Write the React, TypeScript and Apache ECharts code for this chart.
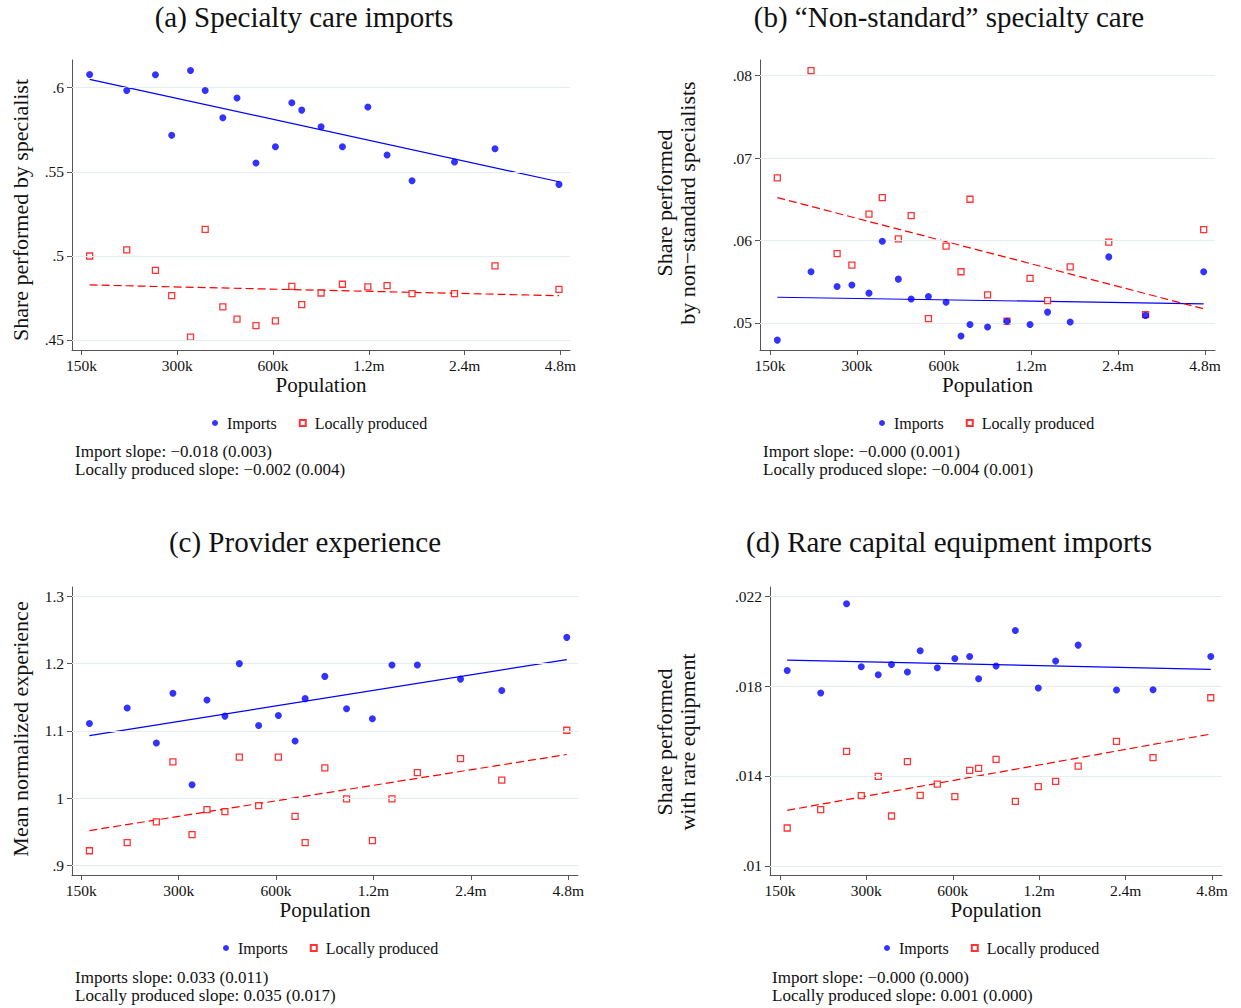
import React, { useEffect, useRef } from "react";
import * as echarts from "echarts";

// Population of each bin (thousands), shared by all panels
const populationK = [159, 208, 256, 288, 330, 367, 417, 462, 530, 610, 687, 738, 849, 991, 1191, 1369, 1640, 2230, 2990, 4750];
const xTickPopK = [150, 300, 600, 1200, 2400, 4800];
const xTickLabels = ["150k", "300k", "600k", "1.2m", "2.4m", "4.8m"];

// (a) Specialty care imports
const aImports = [0.6079, 0.5984, 0.6077, 0.5717, 0.6103, 0.5984, 0.5822, 0.5939, 0.5552, 0.5649, 0.5911, 0.5867, 0.5768, 0.5649, 0.5885, 0.56, 0.5447, 0.5558, 0.5637, 0.5425];
const aLocal = [0.4999, 0.5035, 0.4914, 0.4763, 0.4516, 0.5158, 0.4696, 0.4624, 0.4585, 0.4613, 0.4819, 0.471, 0.4779, 0.4831, 0.4815, 0.4823, 0.4775, 0.4775, 0.494, 0.4801];
const aFitImports = [0.605, 0.5441];
const aFitLocal = [0.4827, 0.4763];
const aYTicks = [0.45, 0.5, 0.55, 0.6];
const aYTickLabels = [".45", ".5", ".55", ".6"];

// (b) "Non-standard" specialty care
const bImports = [0.0479, 0.0562, 0.0544, 0.0546, 0.0536, 0.0599, 0.0553, 0.0529, 0.0532, 0.0525, 0.0484, 0.0498, 0.0495, 0.0502, 0.0498, 0.0513, 0.0501, 0.058, 0.0509, 0.0562];
const bLocal = [0.0676, 0.0806, 0.0584, 0.057, 0.0632, 0.0652, 0.0602, 0.063, 0.0505, 0.0593, 0.0562, 0.065, 0.0534, 0.0502, 0.0554, 0.0527, 0.0568, 0.0598, 0.051, 0.0613];
const bFitImports = [0.0531, 0.0523];
const bFitLocal = [0.0652, 0.0517];
const bYTicks = [0.05, 0.06, 0.07, 0.08];
const bYTickLabels = [".05", ".06", ".07", ".08"];

// (c) Provider experience
const cImports = [1.111, 1.134, 1.082, 1.156, 1.02, 1.146, 1.122, 1.2, 1.108, 1.123, 1.085, 1.148, 1.181, 1.133, 1.118, 1.198, 1.198, 1.177, 1.16, 1.239];
const cLocal = [0.922, 0.934, 0.965, 1.054, 0.946, 0.983, 0.98, 1.061, 0.989, 1.061, 0.973, 0.934, 1.045, 0.999, 0.937, 0.999, 1.038, 1.059, 1.027, 1.101];
const cFitImports = [1.093, 1.206];
const cFitLocal = [0.952, 1.065];
const cYTicks = [0.9, 1.0, 1.1, 1.2, 1.3];
const cYTickLabels = [".9", "1", "1.1", "1.2", "1.3"];

// (d) Rare capital equipment imports
const dImports = [0.018697, 0.017689, 0.021663, 0.01886, 0.018504, 0.018964, 0.018623, 0.019572, 0.018816, 0.019231, 0.01932, 0.018326, 0.01889, 0.020477, 0.017911, 0.019112, 0.019824, 0.017822, 0.017837, 0.01932];
const dLocal = [0.011682, 0.012497, 0.015093, 0.01312, 0.01398, 0.012216, 0.014633, 0.013135, 0.013639, 0.013076, 0.014247, 0.014336, 0.014737, 0.012868, 0.013521, 0.013758, 0.01444, 0.015538, 0.014811, 0.017481];
const dFitImports = [0.019157, 0.018742];
const dFitLocal = [0.012468, 0.015864];
const dYTicks = [0.01, 0.014, 0.018, 0.022];
const dYTickLabels = [".01", ".014", ".018", ".022"];

const titles = ["(a) Specialty care imports", "(b) \u201cNon-standard\u201d specialty care", "(c) Provider experience", "(d) Rare capital equipment imports"];
const yTitles = ["Share performed by specialist", "Share performed\nby non\u2212standard specialists", "Mean normalized experience", "Share performed\nwith rare equipment"];
const notes = [
  "Import slope: \u22120.018 (0.003)\nLocally produced slope: \u22120.002 (0.004)",
  "Import slope: \u22120.000 (0.001)\nLocally produced slope: \u22120.004 (0.001)",
  "Imports slope: 0.033 (0.011)\nLocally produced slope: 0.035 (0.017)",
  "Import slope: \u22120.000 (0.000)\nLocally produced slope: 0.001 (0.000)",
];

const FONT = "'Liberation Serif', 'Times New Roman', serif";
const BLUE = "#0000ff";
const RED = "#ff0000";

const toX = (p: number) => Math.log2(p / 150);

const panels = [
  { imp: aImports, loc: aLocal, fi: aFitImports, fl: aFitLocal, yt: aYTicks, yl: aYTickLabels,
    grid: { left: 72, top: 60, width: 498, height: 290 }, xr: [-0.1, 5.1], yr: [0.444, 0.6165],
    title: [304, 17], ytitle: [20, 210], note: [75, 451], legend: [207, 410] },
  { imp: bImports, loc: bLocal, fi: bFitImports, fl: bFitLocal, yt: bYTicks, yl: bYTickLabels,
    grid: { left: 760, top: 60, width: 455, height: 290 }, xr: [-0.115, 5.115], yr: [0.0467, 0.0819],
    title: [949, 17], ytitle: [676, 203], note: [763, 451], legend: [874, 410] },
  { imp: cImports, loc: cLocal, fi: cFitImports, fl: cFitLocal, yt: cYTicks, yl: cYTickLabels,
    grid: { left: 72, top: 587, width: 506, height: 288 }, xr: [-0.095, 5.1], yr: [0.886, 1.3138],
    title: [305, 542], ytitle: [20, 729], note: [75, 977], legend: [218, 935] },
  { imp: dImports, loc: dLocal, fi: dFitImports, fl: dFitLocal, yt: dYTicks, yl: dYTickLabels,
    grid: { left: 770, top: 587, width: 452, height: 288 }, xr: [-0.115, 5.115], yr: [0.00959, 0.02241],
    title: [949, 542], ytitle: [676, 742], note: [772, 977], legend: [879, 935] },
];

function buildOption() {
  const xTicks = xTickPopK.map(toX);
  const xs = populationK.map(toX);
  const grid: any[] = [];
  const xAxis: any[] = [];
  const yAxis: any[] = [];
  const series: any[] = [];
  const legend: any[] = [];
  const graphic: any[] = [];

  panels.forEach((p, i) => {
    grid.push({ ...p.grid, containLabel: false });
    xAxis.push({
      type: "value", gridIndex: i, min: p.xr[0], max: p.xr[1],
      name: "Population", nameLocation: "middle", nameGap: 24,
      nameTextStyle: { fontFamily: FONT, fontSize: 21, color: "#111" },
      axisLine: { show: true, onZero: false, lineStyle: { color: "#555", width: 1 } },
      axisTick: { show: true, length: 5, customValues: xTicks, lineStyle: { color: "#555" } },
      axisLabel: {
        customValues: xTicks, margin: 7, fontFamily: FONT, fontSize: 15.5, color: "#111",
        formatter: (v: number) => {
          let best = 0;
          xTicks.forEach((t, k) => { if (Math.abs(t - v) < Math.abs(xTicks[best] - v)) best = k; });
          return xTickLabels[best];
        },
      },
      splitLine: { show: false },
    });
    yAxis.push({
      type: "value", gridIndex: i, min: p.yr[0], max: p.yr[1],
      axisLine: { show: true, onZero: false, lineStyle: { color: "#555", width: 1 } },
      axisTick: { show: true, length: 5, customValues: p.yt, lineStyle: { color: "#555" } },
      axisLabel: {
        customValues: p.yt, margin: 8, fontFamily: FONT, fontSize: 15.5, color: "#111",
        formatter: (v: number) => {
          let best = 0;
          p.yt.forEach((t, k) => { if (Math.abs(t - v) < Math.abs(p.yt[best] - v)) best = k; });
          return p.yl[best];
        },
      },
      splitLine: { show: false },
    });
    series.push({
      name: "grid" + i, type: "line", xAxisIndex: i, yAxisIndex: i, data: [], silent: true, z: 1,
      markLine: {
        silent: true, symbol: ["none", "none"], label: { show: false }, precision: 6,
        lineStyle: { color: "#e4eef0", type: "solid", width: 1 },
        data: p.yt.map((v) => ({ yAxis: v })),
      },
    });
    series.push({
      name: "Imports fit", type: "line", xAxisIndex: i, yAxisIndex: i, showSymbol: false, symbol: "none", z: 3,
      data: [[xs[0], p.fi[0]], [xs[xs.length - 1], p.fi[1]]],
      lineStyle: { color: BLUE, width: 1.2, type: "solid" },
    });
    series.push({
      name: "Locally produced fit", type: "line", xAxisIndex: i, yAxisIndex: i, showSymbol: false, symbol: "none", z: 3,
      data: [[xs[0], p.fl[0]], [xs[xs.length - 1], p.fl[1]]],
      lineStyle: { color: RED, width: 1.2, type: [8, 4] },
    });
    series.push({
      name: "Imports", type: "scatter", xAxisIndex: i, yAxisIndex: i, symbol: "circle", symbolSize: 7, z: 5,
      itemStyle: { color: BLUE },
      data: xs.map((x, k) => [x, p.imp[k]]),
    });
    series.push({
      name: "Locally produced", type: "scatter", xAxisIndex: i, yAxisIndex: i, symbol: "rect", symbolSize: 6, z: 4,
      itemStyle: { color: "#ffffff", borderColor: RED, borderWidth: 1.3 },
      data: xs.map((x, k) => [x, p.loc[k]]),
    });
    legend.push({
      data: ["Imports", "Locally produced"], left: p.legend[0], top: p.legend[1], orient: "horizontal",
      itemWidth: 6, itemHeight: 6, itemGap: 22, selectedMode: false,
      textStyle: { fontFamily: FONT, fontSize: 16, color: "#111", padding: [0, 0, 0, 4] },
    });
    graphic.push({
      type: "text", x: p.title[0], y: p.title[1],
      style: { text: titles[i], fontFamily: FONT, fontSize: 29, fill: "#111", align: "center", verticalAlign: "middle" },
    });
    graphic.push({
      type: "text", x: p.ytitle[0], y: p.ytitle[1], rotation: Math.PI / 2,
      style: { text: yTitles[i], fontFamily: FONT, fontSize: 22, lineHeight: 23, fill: "#111", align: "center", verticalAlign: "middle" },
    });
    graphic.push({
      type: "text", x: p.note[0], y: p.note[1] - 9,
      style: { text: notes[i], fontFamily: FONT, fontSize: 17, lineHeight: 18, fill: "#111", align: "left", verticalAlign: "top" },
    });
  });

  return { animation: false, backgroundColor: "#ffffff", grid, xAxis, yAxis, series, legend, graphic };
}

export default function App() {
  const ref = useRef<HTMLDivElement>(null);
  useEffect(() => {
    if (!ref.current) return;
    const chart = echarts.init(ref.current, null, { renderer: "svg" });
    chart.setOption(buildOption());
    return () => chart.dispose();
  }, []);
  return <div ref={ref} style={{ position: "absolute", left: 0, top: 0, width: 1241, height: 1008, background: "#fff" }} />;
}
